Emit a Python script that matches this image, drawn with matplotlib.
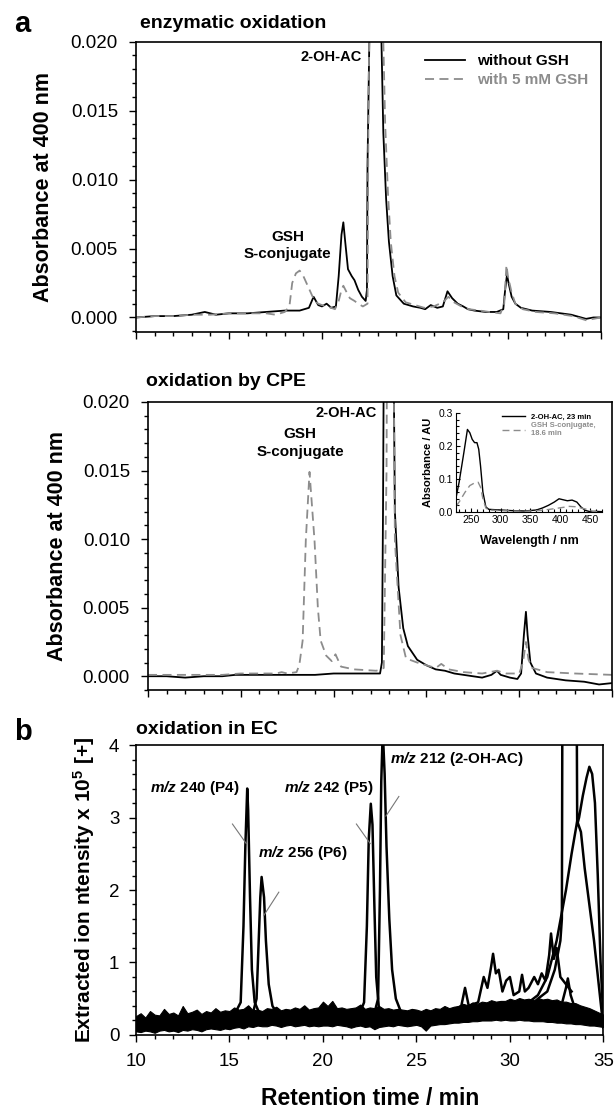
import matplotlib
matplotlib.use('Agg')
import matplotlib.pyplot as plt
from matplotlib.ticker import MultipleLocator, FixedLocator, FormatStrFormatter

plt.rcParams['font.family'] = ['Liberation Sans', 'DejaVu Sans']
plt.rcParams['mathtext.fontset'] = 'custom'
plt.rcParams['mathtext.rm'] = 'Liberation Sans'
plt.rcParams['mathtext.it'] = 'Liberation Sans:italic'
plt.rcParams['mathtext.bf'] = 'Liberation Sans:bold'
plt.rcParams['mathtext.bfit'] = 'Liberation Sans:bold:italic'

# ---- a: enzymatic oxidation (absorbance at 400 nm) ----
t_enz_noGSH = [10, 11, 12, 13, 13.7, 14.3, 15, 16, 17, 18,
               18.8, 19.3, 19.55, 19.8, 20.0, 20.25, 20.5, 20.75, 20.9, 21.05,
               21.15, 21.25, 21.4, 21.6, 21.75, 21.95, 22.15, 22.35, 22.42, 22.45,
               22.6, 22.9, 23.05, 23.2, 23.3, 23.45, 23.6, 23.8, 24.0, 24.4,
               24.9, 25.3, 25.55, 25.85, 26.2, 26.5, 26.75, 27.0, 27.3, 27.6,
               27.85, 28.2, 28.8, 29.4, 29.75, 29.85, 29.95, 30.05, 30.2, 30.4,
               30.7, 31.3, 32.3, 33.4, 34.2, 34.6, 35]
a_enz_noGSH = [0.0000, 0.0001, 0.0001, 0.0002, 0.0004, 0.0002, 0.0003, 0.0003, 0.0004, 0.0005,
               0.0005, 0.0007, 0.0015, 0.0009, 0.0008, 0.0010, 0.0007, 0.0008, 0.0030, 0.0060,
               0.0069, 0.0055, 0.0035, 0.0030, 0.0027, 0.0020, 0.0015, 0.0012, 0.0020, 0.0110,
               0.0250, 0.0600, 0.0450, 0.0200, 0.0134, 0.0086, 0.0055, 0.0030, 0.0016, 0.0010,
               0.0008, 0.0007, 0.0006, 0.0009, 0.0007, 0.0008, 0.0019, 0.0014, 0.0010, 0.0008,
               0.0006, 0.0005, 0.0004, 0.0004, 0.0006, 0.0020, 0.0031, 0.0024, 0.0015, 0.0010,
               0.0007, 0.0005, 0.0004, 0.0002, -0.0001, 0.0000, 0.0000]

t_enz_GSH = [10, 11, 12, 13, 14, 15, 16, 17, 17.5, 18.0,
             18.25, 18.4, 18.6, 18.8, 19.0, 19.2, 19.4, 19.6, 19.8, 20.0,
             20.3, 20.7, 20.9, 21.05, 21.15, 21.3, 21.5, 21.75, 21.95, 22.2,
             22.45, 22.5, 22.7, 23.0, 23.15, 23.3, 23.4, 23.55, 23.7, 23.9,
             24.1, 24.5, 25.0, 25.5, 26.0, 26.5, 26.8, 27.1, 27.5, 27.9,
             28.5, 29.0, 29.6, 29.8, 29.92, 30.0, 30.2, 30.4, 30.8, 31.5,
             32.5, 33.5, 34.2, 34.6, 35]
a_enz_GSH = [0.0000, 0.0001, 0.0001, 0.0002, 0.0002, 0.0003, 0.0003, 0.0003, 0.0002, 0.0004,
             0.0008, 0.0025, 0.0032, 0.0034, 0.0030, 0.0024, 0.0018, 0.0012, 0.0010, 0.0009,
             0.0008, 0.0006, 0.0012, 0.0020, 0.0023, 0.0019, 0.0014, 0.0012, 0.0010, 0.0008,
             0.0010, 0.0150, 0.0400, 0.0600, 0.0400, 0.0200, 0.0140, 0.0090, 0.0055, 0.0030,
             0.0018, 0.0011, 0.0009, 0.0007, 0.0008, 0.0011, 0.0015, 0.0011, 0.0008, 0.0006,
             0.0005, 0.0004, 0.0003, 0.0010, 0.0038, 0.0030, 0.0018, 0.0010, 0.0006, 0.0004,
             0.0003, 0.0001, -0.0002, -0.0001, 0.0000]

# ---- a: oxidation by CPE ----
t_cpe_noGSH = [10, 11, 12, 13, 14, 14.7, 15, 16, 17, 18,
               19, 20, 21, 22, 22.5, 22.6, 22.66, 22.8, 23.0, 23.3,
               23.5, 23.75, 24.0, 24.5, 25.0, 25.5, 26.0, 26.5, 27.0, 28.0,
               28.5, 28.8, 29.0, 29.5, 29.9, 30.1, 30.25, 30.36, 30.45, 30.6,
               30.9, 31.5, 32.5, 33.5, 34.3, 35]
a_cpe_noGSH = [0.0000, 0.0000, -0.0001, 0.0000, 0.0000, 0.0001, 0.0001, 0.0001, 0.0001, 0.0001,
               0.0001, 0.0002, 0.0002, 0.0002, 0.0002, 0.0010, 0.0120, 0.0500, 0.0600, 0.0120,
               0.0065, 0.0035, 0.0022, 0.0012, 0.0008, 0.0005, 0.0004, 0.0002, 0.0001, -0.0001,
               0.0001, 0.0004, 0.0001, -0.0001, -0.0002, 0.0002, 0.0030, 0.0047, 0.0030, 0.0010,
               0.0002, -0.0001, -0.0003, -0.0004, -0.0006, -0.0005]

t_cpe_GSH = [10, 11, 12, 13, 14, 15, 16, 16.9, 17.2, 17.5,
             18.0, 18.15, 18.33, 18.5, 18.7, 18.97, 19.15, 19.3, 19.6, 19.9,
             20.1, 20.4, 21.1, 22.3, 22.7, 22.85, 22.95, 23.05, 23.3, 23.6,
             23.9, 24.5, 25.5, 25.8, 26.2, 27.0, 28.0, 28.8, 29.3, 30.0,
             30.2, 30.36, 30.5, 30.7, 31.5, 33.0, 35]
a_cpe_GSH = [0.0001, 0.0001, 0.0001, 0.0001, 0.0001, 0.0002, 0.0002, 0.0002, 0.0003, 0.0002,
             0.0003, 0.0008, 0.0026, 0.0099, 0.0149, 0.0099, 0.0050, 0.0026, 0.0015, 0.0011,
             0.0016, 0.0007, 0.0005, 0.0004, 0.0006, 0.0150, 0.0500, 0.0600, 0.0099, 0.0030,
             0.0013, 0.0010, 0.0006, 0.0009, 0.0005, 0.0003, 0.0002, 0.0004, 0.0002, 0.0002,
             0.0010, 0.0025, 0.0012, 0.0006, 0.0003, 0.0002, 0.0001]

# inset: UV/Vis spectra
wl_ac = [225, 230, 238, 244, 248, 252, 256, 260, 263, 266, 270, 275, 280, 300, 320, 340,
         360, 370, 380, 390, 398, 405, 412, 420, 428, 435, 442, 450, 460, 470]
abs_ac = [0.045, 0.09, 0.18, 0.25, 0.24, 0.22, 0.21, 0.21, 0.19, 0.14, 0.06, 0.015, 0.008, 0.006, 0.004, 0.003,
          0.006, 0.012, 0.02, 0.03, 0.04, 0.037, 0.034, 0.036, 0.03, 0.015, 0.005, 0.001, 0.002, 0.001]
wl_conj = [225, 230, 240, 248, 255, 262, 266, 270, 275, 280, 300, 340, 370, 390, 405, 415, 425, 435, 445, 455, 468]
abs_conj = [0.018, 0.03, 0.06, 0.08, 0.087, 0.09, 0.075, 0.04, 0.012, 0.006, 0.004, 0.002, 0.005, 0.01,
            0.014, 0.017, 0.016, 0.012, 0.008, 0.002, 0.0]
wl_ticks = [250, 300, 350, 400, 450]

# ---- b: oxidation in EC, extracted ion chromatograms ----
# noisy baseline band of all traces (lower / upper edge)
t_noise = [10, 10.25, 10.5, 10.75, 11, 11.25, 11.5, 11.75, 12, 12.25, 12.5, 12.75, 13, 13.25, 13.5, 13.75,
           14, 14.25, 14.5, 14.75, 15, 15.25, 15.5, 15.75, 16, 16.25, 16.5, 16.75, 17, 17.25, 17.5, 17.75,
           18, 18.25, 18.5, 18.75, 19, 19.25, 19.5, 19.75, 20, 20.25, 20.5, 20.75, 21, 21.25, 21.5, 21.75,
           22, 22.25, 22.5, 22.75, 23, 23.25, 23.5, 23.75, 24, 24.25, 24.5, 24.75, 25, 25.25, 25.5, 25.75,
           26, 26.25, 26.5, 26.75, 27, 27.25, 27.5, 27.75, 28, 28.25, 28.5, 28.75, 29, 29.25, 29.5, 29.75,
           30, 30.25, 30.5, 30.75, 31, 31.25, 31.5, 31.75, 32, 32.25, 32.5, 32.75, 33, 33.25, 33.5, 33.75,
           34, 34.25, 34.5, 34.75, 35]
noise_low = [0.05, 0.04, 0.06, 0.05, 0.03, 0.06, 0.07, 0.05, 0.06, 0.04, 0.07, 0.06, 0.08, 0.07, 0.05, 0.08,
             0.09, 0.08, 0.07, 0.09, 0.08,
             0.10, 0.11, 0.09, 0.12, 0.11, 0.13, 0.12, 0.12, 0.14, 0.13, 0.11, 0.13, 0.14, 0.12, 0.13, 0.14,
             0.12, 0.13, 0.12, 0.13,
             0.13, 0.12, 0.14, 0.13, 0.12, 0.10, 0.12, 0.13, 0.11, 0.12, 0.08, 0.11, 0.12, 0.13, 0.12, 0.14,
             0.13, 0.12, 0.13, 0.14,
             0.12, 0.06, 0.13, 0.14, 0.15, 0.15, 0.16, 0.17, 0.17, 0.18, 0.18, 0.19, 0.19, 0.20, 0.20, 0.20,
             0.21, 0.20, 0.21, 0.20,
             0.20, 0.21, 0.20, 0.20, 0.19, 0.19, 0.19, 0.18, 0.18, 0.17, 0.17, 0.16, 0.16, 0.15, 0.15, 0.14,
             0.13, 0.13, 0.12, 0.11]
noise_high = [0.26, 0.30, 0.24, 0.33, 0.28, 0.27, 0.36, 0.29, 0.31, 0.27, 0.40, 0.30, 0.32, 0.35, 0.29, 0.33,
              0.31, 0.37, 0.32, 0.34, 0.33,
              0.38, 0.35, 0.36, 0.41, 0.34, 0.35, 0.33, 0.37, 0.36, 0.39, 0.34, 0.36, 0.35, 0.38, 0.36, 0.41,
              0.35, 0.37, 0.38, 0.46,
              0.40, 0.47, 0.37, 0.38, 0.36, 0.37, 0.38, 0.42, 0.36, 0.38, 0.37, 0.40, 0.36, 0.37, 0.35, 0.36,
              0.35, 0.34, 0.36, 0.35,
              0.33, 0.36, 0.34, 0.37, 0.36, 0.40, 0.37, 0.39, 0.40, 0.43, 0.41, 0.45, 0.43, 0.46, 0.45, 0.48,
              0.46, 0.47, 0.47, 0.50,
              0.48, 0.51, 0.49, 0.50, 0.48, 0.51, 0.49, 0.50, 0.48, 0.49, 0.46, 0.46, 0.44, 0.44, 0.41, 0.39,
              0.37, 0.34, 0.31, 0.28]

t_p4 = [15.2, 15.6, 15.75, 15.85, 15.95, 16.0, 16.1, 16.2, 16.35, 16.6, 17.0]
i_p4 = [0.25, 0.45, 1.5, 2.6, 3.4, 3.1, 1.9, 0.9, 0.45, 0.3, 0.25]
t_p6 = [16.2, 16.45, 16.55, 16.65, 16.72, 16.85, 16.95, 17.1, 17.3, 17.6]
i_p6 = [0.25, 0.5, 1.2, 1.9, 2.18, 1.9, 1.3, 0.7, 0.4, 0.28]
t_p5 = [21.9, 22.2, 22.35, 22.45, 22.56, 22.65, 22.75, 22.85, 23.0, 23.2]
i_p5 = [0.25, 0.45, 1.5, 2.7, 3.19, 2.9, 1.8, 0.8, 0.35, 0.25]
t_ac = [22.7, 22.95, 23.05, 23.12, 23.2, 23.3, 23.4, 23.55, 23.7, 23.9, 24.2, 24.6]
i_ac = [0.25, 0.5, 2.0, 3.5, 4.2, 3.6, 2.6, 1.6, 0.9, 0.5, 0.3, 0.25]
t_late1 = [26, 27, 27.4, 27.6, 27.8, 28.3, 28.6, 28.8, 29.0, 29.1, 29.25, 29.4, 29.6, 29.8, 30.0, 30.2,
           30.5, 30.65, 30.8, 31.0, 31.3, 31.5, 31.7, 31.9, 32.1, 32.2, 32.35, 32.5, 32.7, 33.0, 33.3]
i_late1 = [0.3, 0.35, 0.4, 0.65, 0.4, 0.45, 0.8, 0.65, 0.95, 1.12, 0.85, 0.9, 0.6, 0.75, 0.8, 0.55,
           0.6, 0.83, 0.6, 0.65, 0.8, 0.7, 0.85, 0.75, 1.1, 1.4, 1.05, 1.2, 0.8, 0.7, 0.6]
t_late2 = [32.5, 32.8, 33.0, 33.1, 33.25, 33.5, 34.0, 35.0]
i_late2 = [0.4, 0.45, 0.65, 0.78, 0.55, 0.35, 0.3, 0.2]
t_late3 = [31.5, 32.0, 32.4, 32.7, 32.78, 32.82, 33.55, 33.6, 33.7, 33.9, 34.1, 34.25, 34.4, 34.55, 34.7, 34.85, 35.0]
i_late3 = [0.5, 0.6, 0.9, 1.3, 1.6, 6.0, 6.0, 2.9, 3.0, 3.3, 3.55, 3.7, 3.6, 3.2, 2.2, 1.0, 0.2]
t_late4 = [31.0, 31.5, 32.0, 32.5, 33.0, 33.3, 33.6, 33.8, 34.0, 34.5, 35.0]
i_late4 = [0.45, 0.55, 0.8, 1.3, 2.0, 2.5, 2.95, 2.8, 2.3, 1.3, 0.1]

fig = plt.figure(figsize=(6.15, 11.08), dpi=100)

gray = '#8c8c8c'
tick_fs = 13.5
lab_fs = 15.5
title_fs = 14


def style_chrom(ax):
    ax.set_xlim(10, 35)
    ax.xaxis.set_major_locator(MultipleLocator(5))
    ax.xaxis.set_minor_locator(MultipleLocator(1))
    ax.tick_params(which='both', direction='out', labelsize=tick_fs, width=1)
    ax.tick_params(which='major', length=5)
    ax.tick_params(which='minor', length=3)
    ax.tick_params(axis='y', pad=8)
    for s in ax.spines.values():
        s.set_linewidth(1.2)


# top panel
ax1 = fig.add_axes([0.2211, 0.7004, 0.756, 0.262])
ax1.plot(t_enz_noGSH, a_enz_noGSH, color='black', lw=1.3, label='without GSH')
ax1.plot(t_enz_GSH, a_enz_GSH, color=gray, lw=1.3, ls=(0, (5, 3)), label='with 5 mM GSH')
style_chrom(ax1)
ax1.set_ylim(-0.00105, 0.020)
ax1.yaxis.set_major_locator(FixedLocator([0.0, 0.005, 0.010, 0.015, 0.020]))
ax1.yaxis.set_minor_locator(MultipleLocator(0.001))
ax1.yaxis.set_major_formatter(FormatStrFormatter('%.3f'))
ax1.xaxis.set_major_locator(FixedLocator([10, 15, 20, 25, 30, 35]))
ax1.set_xticklabels([])
ax1.set_ylabel('Absorbance at 400 nm', fontsize=lab_fs, fontweight='bold')
ax1.yaxis.set_label_coords(-0.176, 0.5)
ax1.text(22.15, 0.0189, '2-OH-AC', fontsize=10.5, fontweight='bold', ha='right', va='center')
ax1.text(18.15, 0.0052, 'GSH\nS-conjugate', fontsize=11, fontweight='bold', ha='center', va='center',
         linespacing=1.3)
leg = ax1.legend(loc='upper right', frameon=False, handlelength=2.6,
                 prop={'weight': 'bold', 'size': 11}, borderaxespad=0.4, labelspacing=0.35)
leg.get_texts()[1].set_color(gray)

# middle panel
ax2 = fig.add_axes([0.2407, 0.3773, 0.7545, 0.2599])
ax2.plot(t_cpe_noGSH, a_cpe_noGSH, color='black', lw=1.3)
ax2.plot(t_cpe_GSH, a_cpe_GSH, color=gray, lw=1.3, ls=(0, (5, 3)))
style_chrom(ax2)
ax2.set_ylim(-0.001, 0.020)
ax2.yaxis.set_major_locator(FixedLocator([0.0, 0.005, 0.010, 0.015, 0.020]))
ax2.yaxis.set_minor_locator(MultipleLocator(0.001))
ax2.yaxis.set_major_formatter(FormatStrFormatter('%.3f'))
ax2.xaxis.set_major_locator(FixedLocator([10, 15, 20, 25, 30, 35]))
ax2.set_xticklabels([])
ax2.set_ylabel('Absorbance at 400 nm', fontsize=lab_fs, fontweight='bold')
ax2.yaxis.set_label_coords(-0.172, 0.5)
ax2.text(22.35, 0.0192, '2-OH-AC', fontsize=10.5, fontweight='bold', ha='right', va='center')
ax2.text(18.2, 0.0170, 'GSH\nS-conjugate', fontsize=11, fontweight='bold', ha='center', va='center',
         linespacing=1.3)

# inset spectra
axi = ax2.inset_axes([0.664, 0.618, 0.314, 0.344])
axi.plot(wl_ac, abs_ac, color='black', lw=1.0, label='2-OH-AC, 23 min')
axi.plot(wl_conj, abs_conj, color=gray, lw=1.0, ls=(0, (5, 3)), label='GSH S-conjugate,\n18.6 min')
axi.set_xlim(225, 470)
axi.set_ylim(0, 0.3)
axi.xaxis.set_major_locator(FixedLocator(wl_ticks))
axi.xaxis.set_minor_locator(MultipleLocator(10))
axi.yaxis.set_major_locator(FixedLocator([0.0, 0.1, 0.2, 0.3]))
axi.yaxis.set_minor_locator(MultipleLocator(0.02))
axi.yaxis.set_major_formatter(FormatStrFormatter('%.1f'))
axi.spines['top'].set_visible(False)
axi.spines['right'].set_visible(False)
axi.tick_params(which='both', direction='in', labelsize=7.5, width=0.8, pad=2.5)
axi.tick_params(which='major', length=3)
axi.tick_params(which='minor', length=2)
axi.set_xlabel('Wavelength / nm', fontsize=9, fontweight='bold', labelpad=7)
axi.set_ylabel('Absorbance / AU', fontsize=8, fontweight='bold', labelpad=4)
ileg = axi.legend(loc='upper right', frameon=False, prop={'weight': 'bold', 'size': 5.5},
                  handlelength=3, borderaxespad=0.0, labelspacing=0.25, bbox_to_anchor=(0.98, 1.03))
ileg.get_texts()[1].set_color(gray)

# bottom panel
ax3 = fig.add_axes([0.2211, 0.0659, 0.760, 0.2617])
ax3.fill_between(t_noise, noise_low, noise_high, color='black', lw=0.8)
for tt, ii in [(t_p4, i_p4), (t_p6, i_p6), (t_p5, i_p5), (t_ac, i_ac),
               (t_late1, i_late1), (t_late2, i_late2), (t_late3, i_late3), (t_late4, i_late4)]:
    ax3.plot(tt, ii, color='black', lw=1.8)
style_chrom(ax3)
ax3.set_ylim(0, 4)
ax3.xaxis.set_major_locator(FixedLocator([10, 15, 20, 25, 30, 35]))
ax3.yaxis.set_major_locator(FixedLocator([0, 1, 2, 3, 4]))
ax3.yaxis.set_minor_locator(MultipleLocator(0.2))
ax3.tick_params(axis='y', pad=7)
ax3.tick_params(axis='x', which='major', pad=8)
ax3.set_ylabel(r'Extracted ion ntensity x 10$^{\mathbf{5}}$ [+]', fontsize=15, fontweight='bold')
ax3.yaxis.set_label_coords(-0.083, 0.5)
ax3.set_xlabel('Retention time / min', fontsize=lab_fs + 1, fontweight='bold')
ax3.xaxis.set_label_coords(0.5, -0.179)

lab_kw = dict(fontsize=11, fontweight='bold', va='center')
ax3.text(10.75, 3.41, r'$\mathbfit{m/z}$ 240 (P4)', ha='left', **lab_kw)
ax3.text(16.5, 2.51, r'$\mathbfit{m/z}$ 256 (P6)', ha='left', **lab_kw)
ax3.text(17.9, 3.41, r'$\mathbfit{m/z}$ 242 (P5)', ha='left', **lab_kw)
ax3.text(23.58, 3.81, r'$\mathbfit{m/z}$ 212 (2-OH-AC)', ha='left', **lab_kw)
for (x0, y0, x1, y1) in [(15.16, 2.91, 15.9, 2.64), (17.64, 1.97, 16.84, 1.65),
                         (21.79, 2.91, 22.53, 2.64), (24.06, 3.29, 23.37, 3.02)]:
    ax3.plot([x0, x1], [y0, y1], color='#777777', lw=0.8)

# titles and panel letters
fig.text(140 / 615, 1 - 24 / 1108, 'enzymatic oxidation', fontsize=title_fs, fontweight='bold', va='center')
fig.text(146 / 615, 1 - 382 / 1108, 'oxidation by CPE', fontsize=title_fs, fontweight='bold', va='center')
fig.text(136 / 615, 1 - 730 / 1108, 'oxidation in EC', fontsize=title_fs, fontweight='bold', va='center')
fig.text(14 / 615, 1 - 24 / 1108, 'a', fontsize=21, fontweight='bold', va='center')
fig.text(14 / 615, 1 - 732 / 1108, 'b', fontsize=21, fontweight='bold', va='center')

fig.savefig('out.png', dpi=100)
